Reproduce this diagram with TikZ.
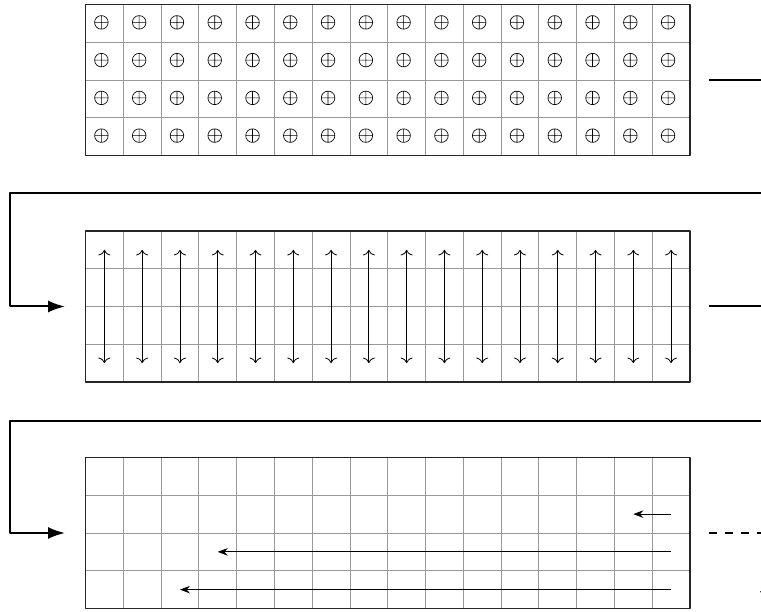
\documentclass[tikz,border=0pt]{standalone}
\usetikzlibrary{arrows.meta}
\begin{document}
\begin{tikzpicture}[x=1pt,y=-1pt,line join=round,>=Stealth,
    cellline/.style={black!40,line width=0.9pt},
    frame/.style={black!85,line width=1.2pt},
    flow/.style={line width=2pt},
    flowtip/.style={-{Latex[length=17pt,width=12pt]}},
    pairarrow/.style={{Computer Modern Rightarrow[length=5.5pt,width=12pt]}-{Computer Modern Rightarrow[length=5.5pt,width=12pt]},line width=0.8pt},
    moveleft/.style={-{Stealth[length=10pt,width=7.5pt]},line width=0.8pt}]
  \def\cw{37.78}
  \def\ch{37.75}
  \def\gx{85.5}
  \useasboundingbox (0,0) rectangle (761,612);
  \clip (0,0) rectangle (761,612);
  % the three grids
  \foreach \gtop in {4.5,231,457.5}{
    \foreach \i in {1,...,15} \draw[cellline] ({\gx+\i*\cw},\gtop) -- ++(0,{4*\ch});
    \foreach \j in {1,2,3} \draw[cellline] (\gx,{\gtop+\j*\ch}) -- ++({16*\cw},0);
    \draw[frame] (\gx,\gtop) rectangle ++({16*\cw},{4*\ch});
  }
  % first grid: circled plus in every cell
  \foreach \i in {0,...,15} \foreach \j in {0,...,3}{
    \coordinate (p) at ({\gx+(\i+0.5)*\cw-3},{4.5+(\j+0.5)*\ch-1});
    \draw[line width=0.65pt] (p) circle (6.8pt) (p) ++(-6.8,0) -- ++(13.6,0) (p) ++(0,-6.8) -- ++(0,13.6);
  }
  % second grid: top row to bottom row
  \foreach \i in {0,...,15}
    \draw[pairarrow] ({\gx+(\i+0.5)*\cw},{231+0.5*\ch}) -- ++(0,{3*\ch});
  % third grid: moves from the last column
  \coordinate (s2) at ({\gx+15.5*\cw},{457.5+1.5*\ch});
  \coordinate (s3) at ({\gx+15.5*\cw},{457.5+2.5*\ch});
  \coordinate (s4) at ({\gx+15.5*\cw},{457.5+3.5*\ch});
  \draw[moveleft] (s2) -- ++({-1*\cw},0);
  \draw[moveleft] (s3) -- ++({-12*\cw},0);
  \draw[moveleft] (s4) -- ++({-13*\cw},0);
  % flow between the grids
  \coordinate (out1) at (709,80);
  \coordinate (out2) at (709,306.5);
  \coordinate (out3) at (709,533);
  \coordinate (in2) at (65,306.5);
  \coordinate (in3) at (65,533);
  \draw[flow,flowtip] (out1) -| (790,193.3) -| (9.5,306.5) -- (in2);
  \draw[flow,flowtip] (out2) -| (790,420.7) -| (9.5,533) -- (in3);
  \draw[flow,flowtip,dash pattern=on 8pt off 8pt] (out3) -| (766,608);
\end{tikzpicture}
\end{document}
